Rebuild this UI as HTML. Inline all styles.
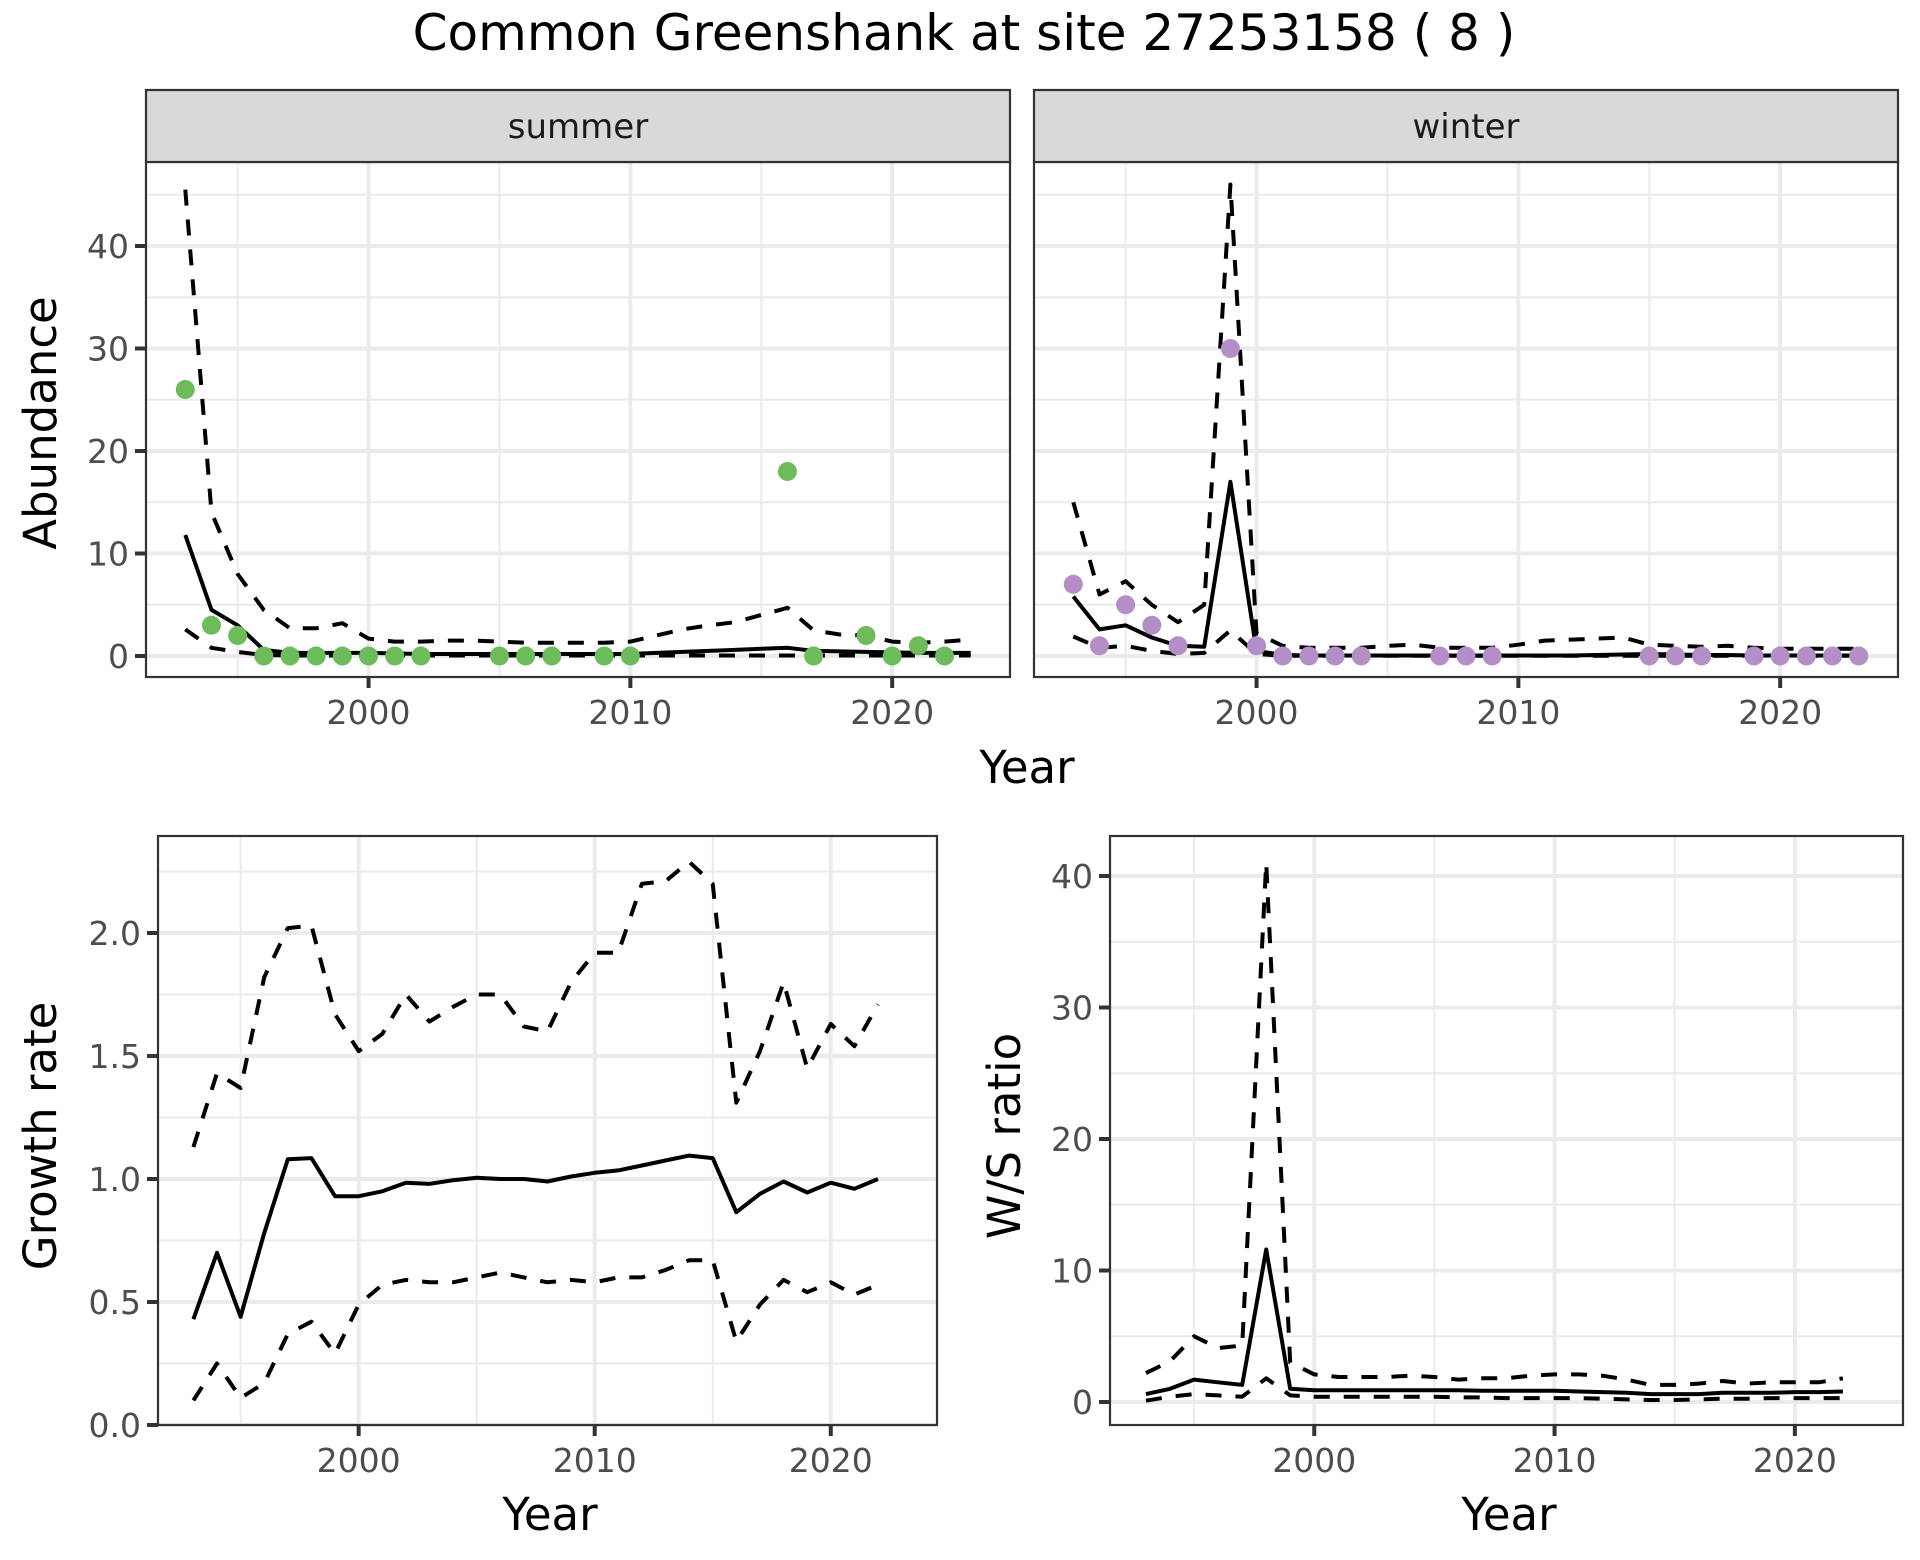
<!DOCTYPE html>
<html><head><meta charset="utf-8"><style>
html,body{margin:0;padding:0;background:#fff;}
svg{display:block;font-family:"DejaVu Sans","Liberation Sans",sans-serif;}
</style></head><body>
<svg id="chart" width="1920" height="1560" viewBox="0 0 1920 1560" xmlns="http://www.w3.org/2000/svg">
<rect width="1920" height="1560" fill="#fff"/>
<text x="964" y="50" font-size="50" text-anchor="middle" fill="#000">Common Greenshank at site 27253158 ( 8 )</text>
<g id="g"></g>
</svg>
<script>
const summerYears=[1993,1994,1995,1996,1997,1998,1999,2000,2001,2002,2005,2006,2007,2009,2010,2016,2017,2019,2020,2021,2022];
const summerCounts=[26,3,2,0,0,0,0,0,0,0,0,0,0,0,0,18,0,2,0,1,0];
const fitYears=[1993,1994,1995,1996,1997,1998,1999,2000,2001,2002,2003,2004,2005,2006,2007,2008,2009,2010,2011,2012,2013,2014,2015,2016,2017,2018,2019,2020,2021,2022,2023];
const summerMean=[11.8,4.5,3,0.6,0.3,0.3,0.3,0.3,0.25,0.2,0.2,0.2,0.2,0.2,0.2,0.2,0.2,0.2,0.3,0.4,0.5,0.6,0.7,0.8,0.5,0.45,0.4,0.35,0.3,0.3,0.3];
const summerUpper=[45.5,14,8,4.5,2.7,2.7,3.2,1.7,1.4,1.4,1.5,1.5,1.4,1.3,1.3,1.3,1.3,1.4,2,2.6,3,3.3,4,4.7,2.5,2.1,2,1.4,1.3,1.4,1.6];
const summerLower=[2.6,0.8,0.4,0.1,0.05,0.05,0.05,0.05,0.05,0.05,0.05,0.05,0.05,0.05,0.05,0.05,0.05,0.05,0.05,0.05,0.05,0.05,0.05,0.05,0.05,0.05,0.05,0.05,0.05,0.05,0.05];
const winterYears=[1993,1994,1995,1996,1997,1999,2000,2001,2002,2003,2004,2007,2008,2009,2015,2016,2017,2019,2020,2021,2022,2023];
const winterCounts=[7,1,5,3,1,30,1,0,0,0,0,0,0,0,0,0,0,0,0,0,0,0];
const winterMean=[5.8,2.6,3,1.8,1,0.9,17,0.5,0.1,0.05,0.05,0.05,0.05,0.05,0.05,0.05,0.05,0.05,0.05,0.05,0.1,0.15,0.2,0.15,0.1,0.1,0.05,0.05,0.05,0.05,0.05];
const winterUpper=[15,6,7.3,5,3.3,5,46,2.2,1,0.8,0.8,0.8,1,1.1,0.8,0.8,0.8,1.1,1.5,1.6,1.7,1.8,1.1,1,0.9,1,0.8,0.7,0.7,0.7,0.7];
const winterLower=[1.9,0.8,1,0.5,0.2,0.3,2.5,0.2,0.02,0.02,0.02,0.02,0.02,0.02,0.02,0.02,0.02,0.02,0.02,0.02,0.02,0.02,0.02,0.02,0.02,0.02,0.02,0.02,0.02,0.02,0.02];
const rateYears=[1993,1994,1995,1996,1997,1998,1999,2000,2001,2002,2003,2004,2005,2006,2007,2008,2009,2010,2011,2012,2013,2014,2015,2016,2017,2018,2019,2020,2021,2022];
const growthMean=[.43,.70,.44,.78,1.08,1.085,.93,.93,.95,.985,.98,.995,1.005,1.0,1.0,.99,1.01,1.025,1.035,1.055,1.075,1.095,1.085,.865,.94,.99,.945,.985,.96,1.0];
const growthUpper=[1.13,1.43,1.37,1.82,2.02,2.03,1.67,1.52,1.59,1.75,1.64,1.7,1.75,1.75,1.62,1.6,1.8,1.92,1.92,2.2,2.21,2.29,2.2,1.31,1.52,1.8,1.45,1.63,1.54,1.71];
const growthLower=[.1,.25,.11,.17,.37,.42,.29,.49,.57,.59,.58,.58,.6,.62,.6,.58,.59,.58,.6,.6,.63,.67,.67,.34,.49,.59,.54,.58,.53,.57];
const ratioMean=[.6,1,1.7,1.5,1.3,11.6,1,.9,.9,.9,.9,.9,.9,.9,.85,.85,.85,.85,.8,.75,.7,.6,.6,.6,.7,.7,.7,.75,.75,.8];
const ratioUpper=[2.2,3.1,5,4.1,4.3,41,3,2.1,1.9,1.9,1.9,2,1.9,1.7,1.8,1.8,2,2.1,2.1,2,1.7,1.3,1.3,1.4,1.6,1.4,1.5,1.5,1.5,1.8];
const ratioLower=[.1,.4,.6,.5,.4,1.8,.5,.4,.4,.4,.4,.4,.4,.35,.35,.3,.3,.3,.3,.25,.2,.15,.15,.2,.25,.25,.3,.3,.3,.3];
const xTicks=[2000,2010,2020];
const abundTicks=[0,10,20,30,40];
const growthTicks=[0,0.5,1,1.5,2];
const growthTickLabels=["0.0","0.5","1.0","1.5","2.0"];
const ratioTicks=[0,10,20,30,40];

const NS="http://www.w3.org/2000/svg";
const G=document.getElementById('g');
function el(t,a,p){const e=document.createElementNS(NS,t);for(const k in a)e.setAttribute(k,a[k]);(p||G).appendChild(e);return e;}

function panel(o){
  const sx=v=>o.x0+(v-o.xd[0])/(o.xd[1]-o.xd[0])*(o.x1-o.x0);
  const sy=v=>o.yp0+(v-o.yv0)/(o.yv1-o.yv0)*(o.yp1-o.yp0);
  const g=el('g',{});
  
  
  el('rect',{x:o.x0,y:o.y0,width:o.x1-o.x0,height:o.y1-o.y0,fill:'#fff'},g);
  const minorX=[];for(let i=0;i<xTicks.length;i++){minorX.push(xTicks[i]-5);}minorX.push(xTicks[xTicks.length-1]+5);
  minorX.forEach(v=>{const x=sx(v);if(x>o.x0&&x<o.x1){const l=el('line',{x1:x,x2:x,y1:o.y0,y2:o.y1,stroke:'#ebebeb','stroke-width':2},g);}});
  const minorY=[];for(let i=0;i<o.yt.length;i++){minorY.push(o.yt[i]+(o.yt[1]-o.yt[0])/2);}minorY.push(o.yt[0]-(o.yt[1]-o.yt[0])/2);
  minorY.forEach(v=>{const y=sy(v);if(y>o.y0&&y<o.y1){const l=el('line',{x1:o.x0,x2:o.x1,y1:y,y2:y,stroke:'#ebebeb','stroke-width':2},g);}});
  xTicks.forEach(v=>{const x=sx(v);const l=el('line',{x1:x,x2:x,y1:o.y0,y2:o.y1,stroke:'#ebebeb','stroke-width':4},g);});
  o.yt.forEach(v=>{const y=sy(v);const l=el('line',{x1:o.x0,x2:o.x1,y1:y,y2:y,stroke:'#ebebeb','stroke-width':4},g);});
  function line(xs,ys,dash,nm){
    const d=xs.map((v,i)=>(i?'L':'M')+sx(v).toFixed(1)+','+sy(ys[i]).toFixed(1)).join('');
    const p=el('path',{d:d,fill:'none',stroke:'#000','stroke-width':4,'stroke-linejoin':'round','stroke-dasharray':dash?'16,14':'none'},g);
    
    
  }
  line(o.fx,o.up,true,'upper-bound-line');
  line(o.fx,o.lo,true,'lower-bound-line');
  line(o.fx,o.mean,false,'mean-line');
  if(o.px){o.px.forEach((v,i)=>{const c=el('circle',{cx:sx(v),cy:sy(o.py[i]),r:9.5,fill:o.col},g);});}
  el('rect',{x:o.x0,y:o.y0,width:o.x1-o.x0,height:o.y1-o.y0,fill:'none',stroke:'#333','stroke-width':2.2},g);
  xTicks.forEach(v=>{const x=sx(v);el('line',{x1:x,x2:x,y1:o.y1,y2:o.y1+11,stroke:'#333','stroke-width':4},g);
    const t=el('text',{x:x,y:o.y1+47,'font-size':33,'text-anchor':'middle',fill:'#4d4d4d'},g);t.textContent=v;});
  if(o.showY){o.yt.forEach((v,i)=>{const y=sy(v);el('line',{x1:o.x0-11,x2:o.x0,y1:y,y2:y,stroke:'#333','stroke-width':4},g);
    const t=el('text',{x:o.x0-17,y:y+12,'font-size':33,'text-anchor':'end',fill:'#4d4d4d'},g);t.textContent=o.yl[i];});}
  if(o.strip){const s=el('rect',{x:o.x0,y:90,width:o.x1-o.x0,height:72,fill:'#d9d9d9',stroke:'#333','stroke-width':2.2},g);
    const t=el('text',{x:(o.x0+o.x1)/2,y:138,'font-size':34,'text-anchor':'middle',fill:'#1a1a1a'},g);t.textContent=o.strip;}
}
const abLabels=abundTicks.map(String);
panel({name:'summer-panel',x0:146,x1:1010,y0:162,y1:677,xd:[1991.5,2024.5],yv0:0,yp0:656,yv1:40,yp1:246,yt:abundTicks,yl:abLabels,showY:true,fx:fitYears,mean:summerMean,up:summerUpper,lo:summerLower,px:summerYears,py:summerCounts,col:'#6dbb5a',strip:'summer'});
panel({name:'winter-panel',x0:1034,x1:1898,y0:162,y1:677,xd:[1991.5,2024.5],yv0:0,yp0:656,yv1:40,yp1:246,yt:abundTicks,yl:abLabels,showY:false,fx:fitYears,mean:winterMean,up:winterUpper,lo:winterLower,px:winterYears,py:winterCounts,col:'#b48ec6',strip:'winter'});
panel({name:'growth-rate-panel',x0:158,x1:937,y0:836,y1:1425,xd:[1991.5,2024.5],yv0:0,yp0:1425,yv1:2,yp1:933,yt:growthTicks,yl:growthTickLabels,showY:true,fx:rateYears,mean:growthMean,up:growthUpper,lo:growthLower});
panel({name:'ws-ratio-panel',x0:1110,x1:1903,y0:836,y1:1425,xd:[1991.5,2024.5],yv0:0,yp0:1402,yv1:40,yp1:876,yt:ratioTicks,yl:ratioTicks.map(String),showY:true,fx:rateYears,mean:ratioMean,up:ratioUpper,lo:ratioLower});
function label(txt,x,y,rot,nm){const t=el('text',{x:x,y:y,'font-size':45,'text-anchor':'middle',fill:'#000',transform:rot?`rotate(-90 ${x} ${y})`:''});t.textContent=txt;}
label('Year',1027,783,false,'x-axis-title-top');
label('Abundance',56,423,true,'y-axis-title-abundance');
label('Year',550,1530,false,'x-axis-title-growth');
label('Year',1509,1530,false,'x-axis-title-ratio');
label('Growth rate',56,1136,true,'y-axis-title-growth');
label('W/S ratio',1020,1136,true,'y-axis-title-ratio');
</script>
</body></html>
